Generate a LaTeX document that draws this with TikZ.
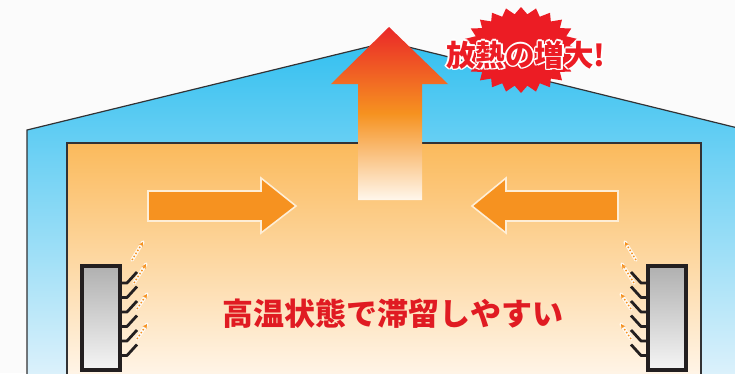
\documentclass[tikz,border=0pt]{standalone}
\usepackage{fontspec}
\newfontfamily\jpfont{Noto Sans CJK JP}
\usepackage{tikz}
\usetikzlibrary{arrows.meta}
\definecolor{paper}{RGB}{251,251,251}
\definecolor{skytop}{RGB}{52,192,240}
\definecolor{skybot}{RGB}{220,241,251}
\definecolor{roomtop}{RGB}{251,186,92}
\definecolor{roombot}{RGB}{255,245,232}
\definecolor{heatred}{RGB}{234,40,40}
\definecolor{heatorange}{RGB}{246,146,32}
\definecolor{heatpale}{RGB}{255,247,236}
\definecolor{burstred}{RGB}{236,28,36}
\definecolor{wallline}{RGB}{50,50,52}
\definecolor{finline}{RGB}{35,31,32}
\tikzset{
  wall/.style={draw=wallline, line width=1.2pt},
  flowarrow/.style={fill=heatorange, draw=heatpale!85!roomtop, line width=1.6pt, line join=miter},
  heater/.style={top color=gray!62, bottom color=gray!8},
  fin/.style={draw=finline, line width=2.8pt, line join=round},
  warmhalo/.style={draw=white, line width=3.4pt, line cap=round, opacity=0.85},
  warmair/.style={draw=heatorange, line width=1.5pt, dotted, -{Stealth[length=4.5pt,width=4.5pt]}},
  burstlabel/.style={font=\jpfont\bfseries\fontsize{29.5}{29.5}\selectfont, text=burstred, inner sep=0pt},
  roomlabel/.style={font=\jpfont\bfseries\fontsize{31}{31}\selectfont, text=burstred!95!black, inner sep=0pt},
}

\begin{document}
\begin{tikzpicture}[x=1pt, y=-1pt]
  \useasboundingbox (0,0) rectangle (735,373);
  \clip (0,0) rectangle (735,373);
  \fill[paper] (0,0) rectangle (735,373);
  % building shell
  \shade[top color=skytop, bottom color=skybot]
    (27,375) -- (27,130) -- (388,42) -- (746,130) -- (746,375) -- cycle;
  \draw[wall] (27,375) -- (27,130) -- (388,42) -- (746,130) -- (746,375);
  % warm room
  \shade[top color=roomtop, bottom color=roombot] (67,143) rectangle (701,376);
  \draw[wall] (67,376) -- (67,143) -- (701,143) -- (701,376);
  % rising heat
  \shade[top color=heatred, bottom color=heatpale, middle color=heatorange]
    (358,200) -- (358,84) -- (331,84) -- (389,27) -- (448,84) -- (422,84) -- (422,200) -- cycle;
  % burst with label
  \fill[burstred] plot[domain=0:47, samples=48, variable=\k]
    ({521+cos(\k*7.5)*(58-9*mod(\k,2))}, {50+sin(\k*7.5)*(43-7*mod(\k,2))}) -- cycle;
  \foreach \dx/\dy in {-1.6/0,1.6/0,0/-1.6,0/1.6,-1.2/-1.2,1.2/1.2,-1.2/1.2,1.2/-1.2}
    \node[burstlabel, text=white] at (526+\dx,55+\dy) {放熱の増大!};
  \node[burstlabel] (heatgain) at (526,55) {放熱の増大!};
  % inflow arrows
  \draw[flowarrow] (148,191) -- (261,191) -- (261,178) -- (296,206) -- (261,233) -- (261,221) -- (148,221) -- cycle;
  \draw[flowarrow] (618,191) -- (506,191) -- (506,178) -- (472,206) -- (506,233) -- (506,221) -- (618,221) -- cycle;
  % heaters
  \shade[heater] (82,266) rectangle (120,370);
  \draw[finline, line width=3.6pt] (82,266) rectangle (120,370);
  \shade[heater] (648,266) rectangle (686,370);
  \draw[finline, line width=3.6pt] (648,266) rectangle (686,370);
  \foreach \y in {283,297.5,312,326.5,341,355.5} {
    \draw[fin] (120,\y) -- (127,\y) -- (137,\y-11);
    \draw[fin] (648,\y) -- (641,\y) -- (631,\y-11);
  }
  % warm air off the fins
  \foreach \xa/\ya/\xb/\yb in {132/260/143/242, 134/283/146/264, 137/309/147/294, 137/339/147/324} {
    \draw[warmhalo] (\xa,\ya) -- (\xb,\yb);
    \draw[warmair] (\xa,\ya) -- (\xb,\yb);
    \draw[warmhalo] (768-\xa,\ya) -- (768-\xb,\yb);
    \draw[warmair] (768-\xa,\ya) -- (768-\xb,\yb);
  }
  \node[roomlabel] (stagnant) at (393,314) {高温状態で滞留しやすい};
\end{tikzpicture}
\end{document}
